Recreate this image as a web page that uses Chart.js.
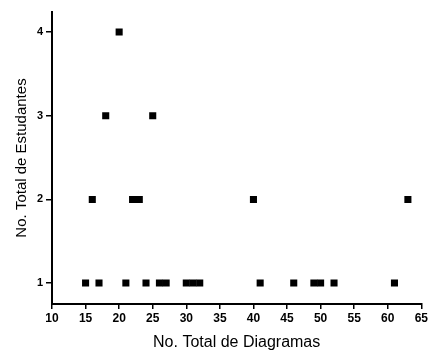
<!DOCTYPE html>
<html>
<head>
<meta charset="utf-8">
<script src="https://cdn.jsdelivr.net/npm/chart.js@4/dist/chart.umd.min.js"></script>
<style>
  html, body { margin: 0; padding: 0; background: #fff; }
  #wrap { width: 430px; height: 352px; }
</style>
</head>
<body>
<div id="wrap"><canvas id="scatter-chart" width="430" height="352"></canvas></div>
<script>
// diagram counts (x) and student counts (y)
const diagramas = [15, 17, 21, 24, 26, 27, 30, 31, 32, 41, 46, 49, 50, 52, 61,
                   16, 22, 23, 40, 63,
                   18, 25,
                   20];
const estudantes = [1, 1, 1, 1, 1, 1, 1, 1, 1, 1, 1, 1, 1, 1, 1,
                    2, 2, 2, 2, 2,
                    3, 3,
                    4];
const xTicks = [10, 15, 20, 25, 30, 35, 40, 45, 50, 55, 60, 65];
const yTicks = [1, 2, 3, 4];

const font = { family: '"Liberation Sans", Arial, sans-serif' };

document.addEventListener('DOMContentLoaded', () => {
  const ctx = document.getElementById('scatter-chart').getContext('2d');
  const points = diagramas.map((x, i) => ({ x: x, y: estudantes[i] }));

  new Chart(ctx, {
    type: 'scatter',
    data: {
      datasets: [{
        data: points,
        pointStyle: 'rect',
        pointRadius: 5,
        pointHoverRadius: 5,
        backgroundColor: '#000',
        borderColor: '#000',
        borderWidth: 0
      }]
    },
    options: {
      responsive: false,
      animation: false,
      devicePixelRatio: 1,
      layout: { padding: { top: 12, right: 8, left: 0, bottom: 0 } },
      plugins: {
        legend: { display: false },
        tooltip: { enabled: false }
      },
      scales: {
        x: {
          type: 'linear',
          min: 10,
          max: 65,
          afterBuildTicks: axis => { axis.ticks = xTicks.map(v => ({ value: v })); },
          afterFit: axis => { axis.height = 48; },
          grid: { drawOnChartArea: false, drawTicks: true, tickLength: 5, color: '#000', lineWidth: 1.5 },
          border: { display: true, color: '#000', width: 2 },
          ticks: { color: '#000', padding: 2, font: { ...font, size: 12, weight: 'bold' }, maxRotation: 0 },
          title: {
            display: true,
            text: 'No. Total de Diagramas',
            color: '#000',
            font: { ...font, size: 16 },
            padding: { top: 4, bottom: 0 }
          }
        },
        y: {
          type: 'linear',
          min: 0.75,
          max: 4.24,
          afterBuildTicks: axis => { axis.ticks = yTicks.map(v => ({ value: v })); },
          afterFit: axis => { axis.width = 52; },
          grid: { drawOnChartArea: false, drawTicks: true, tickLength: 6, color: '#000', lineWidth: 1.5 },
          border: { display: true, color: '#000', width: 2 },
          ticks: { color: '#000', padding: 3, font: { ...font, size: 11, weight: 'bold' } },
          title: {
            display: true,
            text: 'No. Total de Estudantes',
            color: '#000',
            font: { ...font, size: 15 },
            padding: { top: 13, bottom: 0 }
          }
        }
      }
    }
  });
});
</script>
</body>
</html>
